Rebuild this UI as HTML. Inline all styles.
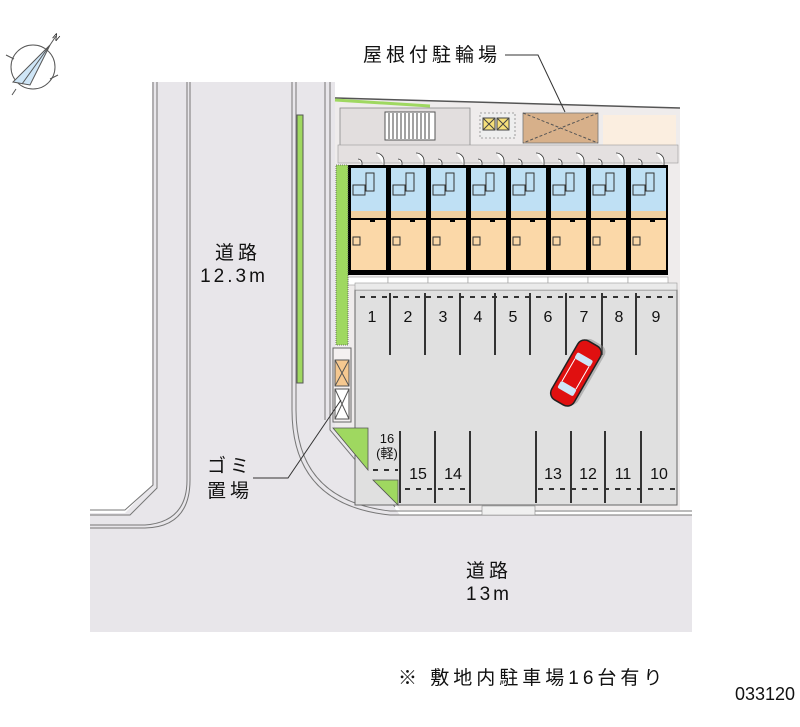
<!DOCTYPE html>
<html><head><meta charset="utf-8"><style>
html,body{margin:0;padding:0;background:#fff;}
svg{display:block;}
text{font-family:"Liberation Sans","Noto Sans CJK JP",sans-serif;fill:#111;}
</style></head><body>
<svg width="800" height="727" viewBox="0 0 800 727" xmlns="http://www.w3.org/2000/svg">
<defs>
<g id="unit">
 <rect x="0" y="0" width="40" height="110" fill="#000"/>
 <rect x="3" y="3" width="35" height="50" fill="#bfe0f4"/>
 <rect x="3" y="55" width="35" height="50" fill="#fbd8a8"/>
 <rect x="3" y="46" width="35" height="7" fill="#f0d0a0"/>
 <rect x="5" y="20" width="12" height="10" fill="none" stroke="#333" stroke-width="1"/>
 <rect x="18" y="8" width="8" height="18" fill="none" stroke="#333" stroke-width="1"/>
 <rect x="5" y="72" width="7" height="8" fill="none" stroke="#333" stroke-width="1"/>
 <rect x="22" y="53" width="5" height="4" fill="#000"/>
 <rect x="0" y="112" width="40" height="8" fill="#fff" stroke="#999" stroke-width="0.6"/>
 <path d="M28 -12 a8 8 0 0 1 8 8 v4" fill="#fff" stroke="#333" stroke-width="0.8"/>
 <path d="M10 -6 a4 4 0 0 1 4 4 v2" fill="#fff" stroke="#333" stroke-width="0.8"/>
</g>
</defs>
<!-- roads -->
<path d="M152 82 L335 82 L335 430 L400 515 L692 515 L692 632 L90 632 L90 513 L125 513 L152 485 Z" fill="#e8e6ea"/>
<g fill="none" stroke="#777" stroke-width="1">
 <path d="M153 82 V485 L125 510 H90"/>
 <path d="M157 82 V488 L130 515 H90"/>
 <path d="M187 82 V480 Q187 522 145 525 H90"/>
 <path d="M190 82 V480 Q190 527 145 528 H90"/>
 <path d="M292 82 V410 Q292 505 390 515 H692"/>
 <path d="M296 82 V410 Q296 500 390 511 H692"/>
 <path d="M325 82 V420"/>
 <path d="M330 82 V430 L395 507"/>
</g>
<rect x="297" y="115" width="6" height="268" fill="#9fd860" stroke="#555" stroke-width="1"/>
<!-- site -->
<path d="M335 97 L680 108 L680 510 L400 510 L335 432 Z" fill="#efecec"/>
<rect x="340" y="108" width="130" height="45" fill="#e2dede" stroke="#888" stroke-width="0.8"/>
<rect x="385" y="112" width="50" height="28" fill="#fff" stroke="#555" stroke-width="1"/>
<g stroke="#444" stroke-width="1">
 <path d="M389 113V139M393 113V139M397 113V139M401 113V139M405 113V139M409 113V139M413 113V139M417 113V139M421 113V139M425 113V139M429 113V139"/>
</g>
<rect x="480" y="113" width="35" height="25" fill="#eee" stroke="#888" stroke-width="0.8" stroke-dasharray="2 2"/>
<rect x="483" y="118" width="12" height="12" fill="#f6e07a" stroke="#444"/>
<rect x="497" y="118" width="12" height="12" fill="#f6e07a" stroke="#444"/>
<path d="M483 118l12 12M495 118l-12 12M497 118l12 12M509 118l-12 12" stroke="#444"/>
<rect x="523" y="113" width="75" height="30" fill="#d7b08a" stroke="#777" stroke-width="0.8"/>
<path d="M523 113L598 143M598 113L523 143" stroke="#555" stroke-dasharray="3 2"/>
<rect x="603" y="115" width="73" height="30" fill="#fbeee0"/>
<rect x="338" y="145" width="340" height="18" fill="#e4e0e0" stroke="#999" stroke-width="0.6"/>
<path d="M335 98 L680 108" stroke="#555" stroke-width="1.5"/>
<path d="M335 100 L430 106" stroke="#9fd860" stroke-width="3"/>
<use href="#unit" x="348" y="165"/>
<use href="#unit" x="388" y="165"/>
<use href="#unit" x="428" y="165"/>
<use href="#unit" x="468" y="165"/>
<use href="#unit" x="508" y="165"/>
<use href="#unit" x="548" y="165"/>
<use href="#unit" x="588" y="165"/>
<use href="#unit" x="628" y="165"/>
<rect x="336" y="165" width="12" height="180" fill="#9fd860" stroke="#555" stroke-width="0.8" stroke-dasharray="1 1"/>
<!-- parking -->
<rect x="355" y="290" width="322" height="215" fill="#e0e0e0" stroke="#666" stroke-width="1"/>
<rect x="355" y="283" width="322" height="7" fill="#eaeaea" stroke="#999" stroke-width="0.6"/>
<g stroke="#333" stroke-width="2">
 <path d="M390 293V355M425 293V355M460 293V355M495 293V355M530 293V355M566 293V355M602 293V355M636 293V355"/>
 <path d="M400 431V503M435 431V503M470 431V503M536 431V503M571 431V503M605 431V503M641 431V503"/>
 <path d="M360 297H675" stroke-dasharray="5 6"/>
 <path d="M405 489H468M538 489H675" stroke-dasharray="5 6"/>
 <path d="M373 470H398" stroke-dasharray="5 6"/>
</g>
<g font-size="16" text-anchor="middle">
 <text x="372" y="322">1</text><text x="408" y="322">2</text><text x="443" y="322">3</text><text x="478" y="322">4</text><text x="513" y="322">5</text><text x="548" y="322">6</text><text x="584" y="322">7</text><text x="619" y="322">8</text><text x="656" y="322">9</text>
 <text x="418" y="479">15</text><text x="453" y="479">14</text><text x="553" y="479">13</text><text x="588" y="479">12</text><text x="623" y="479">11</text><text x="659" y="479">10</text>
 <text x="387" y="443" font-size="13">16</text><text x="387" y="458" font-size="13">(軽)</text>
</g>
<!-- garbage -->
<rect x="333" y="348" width="18" height="74" fill="#f4f0f0" stroke="#666"/>
<rect x="335" y="360" width="14" height="26" fill="#f5c890" stroke="#555"/>
<path d="M335 360l14 26M349 360l-14 26" stroke="#555"/>
<rect x="335" y="389" width="14" height="30" fill="#fff" stroke="#555"/>
<path d="M335 389l14 30M349 389l-14 30" stroke="#555"/>
<path d="M333 428 L368 428 L368 470 Z" fill="#9fd860" stroke="#555" stroke-width="0.8"/>
<path d="M373 480 L398 480 L398 505 Z" fill="#9fd860" stroke="#555" stroke-width="0.8"/>
<path d="M482 506H535V515H482Z" fill="#f0f0f0" stroke="#888" stroke-width="0.6"/>
<!-- car -->
<g transform="translate(576,373) rotate(-60)">
 <rect x="-34" y="-13" width="68" height="26" rx="8" fill="#888" opacity="0.5" transform="translate(3,3)"/>
 <rect x="-34" y="-13" width="68" height="26" rx="8" fill="#e01010" stroke="#222" stroke-width="1.5"/>
 <rect x="-22" y="-9" width="8" height="18" rx="2" fill="#cfe6f7"/>
 <rect x="12" y="-9" width="7" height="18" rx="2" fill="#cfe6f7"/>
 <path d="M-14 -8H12M-14 8H12" stroke="#fff" stroke-width="1"/>
</g>
<!-- leader lines -->
<path d="M505 55 L538 55 L565 112" stroke="#333" fill="none"/>
<path d="M253 478 L288 478 L341 400" stroke="#333" fill="none"/>
<!-- labels -->
<text x="363" y="61" font-size="19" letter-spacing="4">屋根付駐輪場</text>
<text x="238" y="259" font-size="19" letter-spacing="4" text-anchor="middle">道路</text>
<text x="234" y="282" font-size="19" letter-spacing="3" text-anchor="middle">12.3m</text>
<text x="230" y="472" font-size="19" letter-spacing="4" text-anchor="middle">ゴミ</text>
<text x="230" y="497" font-size="19" letter-spacing="4" text-anchor="middle">置場</text>
<text x="489" y="577" font-size="19" letter-spacing="4" text-anchor="middle">道路</text>
<text x="489" y="600" font-size="19" letter-spacing="3" text-anchor="middle">13m</text>
<text x="398" y="684" font-size="19" letter-spacing="4">※ 敷地内駐車場16台有り</text>
<text x="735" y="700" font-size="18">033120</text>
<!-- compass -->
<circle cx="33" cy="67" r="22" fill="none" stroke="#555"/>
<path d="M50 45 L13 82 L30 85 Z" fill="#cfe6f7" stroke="#555"/>
<path d="M50 45 L22 84" stroke="#555"/>
<path d="M50 45 L56 36" stroke="#555"/>
<text x="53" y="40" font-size="9" transform="rotate(40 56 37)">N</text>
<path d="M6 55l8 4M50 79l8 -4M16 89l-4 6" stroke="#555"/>
</svg>
</body></html>
